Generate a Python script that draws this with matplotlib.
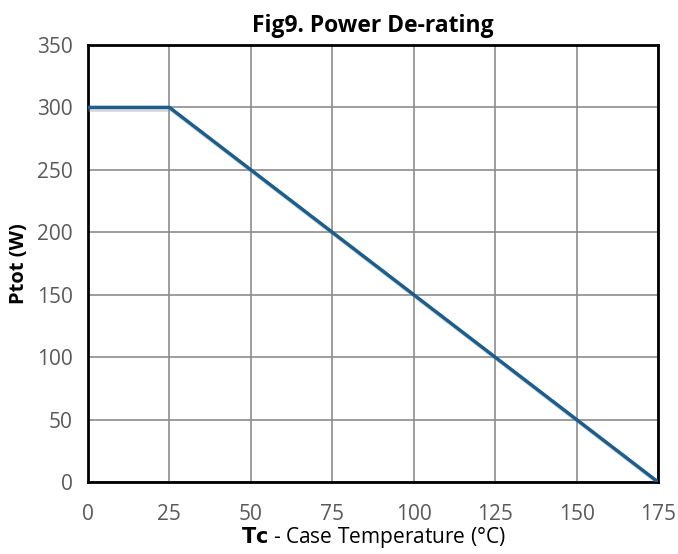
import matplotlib
matplotlib.use("Agg")
import matplotlib.pyplot as plt
import matplotlib.patheffects as pe

temps = [0, 25, 175]
power = [300, 300, 0]
xticks = [0, 25, 50, 75, 100, 125, 150, 175]
yticks = [0, 50, 100, 150, 200, 250, 300, 350]

plt.rcParams['font.family'] = ['Open Sans', 'DejaVu Sans']

fig = plt.figure(figsize=(6.78, 5.54), dpi=100)
ax = fig.add_axes([0.1298, 0.130, 0.8407, 0.7888])

ax.plot(temps, power, color='#1b5e8c', linewidth=2.5, zorder=3,
        path_effects=[pe.SimpleLineShadow(offset=(1.5, -2), shadow_color='#999999', alpha=0.35),
                      pe.Normal()])
ax.set_xlim(0, 175)
ax.set_ylim(0, 350)
ax.set_xticks(xticks)
ax.set_yticks(yticks)
ax.grid(True, color='#8c8c8c', linewidth=1.2)
ax.set_axisbelow(True)
for s in ax.spines.values():
    s.set_color('black')
    s.set_linewidth(2)
ax.tick_params(length=0, labelsize=15, labelcolor='#595959')
ax.tick_params(axis='x', pad=16)
ax.tick_params(axis='y', pad=11)

ax.set_title('Fig9. Power De-rating', fontsize=16.5, fontweight='bold', pad=9)
ax.set_ylabel('Ptot (W)', fontsize=14.5, fontweight='bold', labelpad=6)
ax.set_xlabel(r'$\mathbf{Tc}$ - Case Temperature (°C)', fontsize=15, labelpad=0)

fig.savefig('out.png', dpi=100)
